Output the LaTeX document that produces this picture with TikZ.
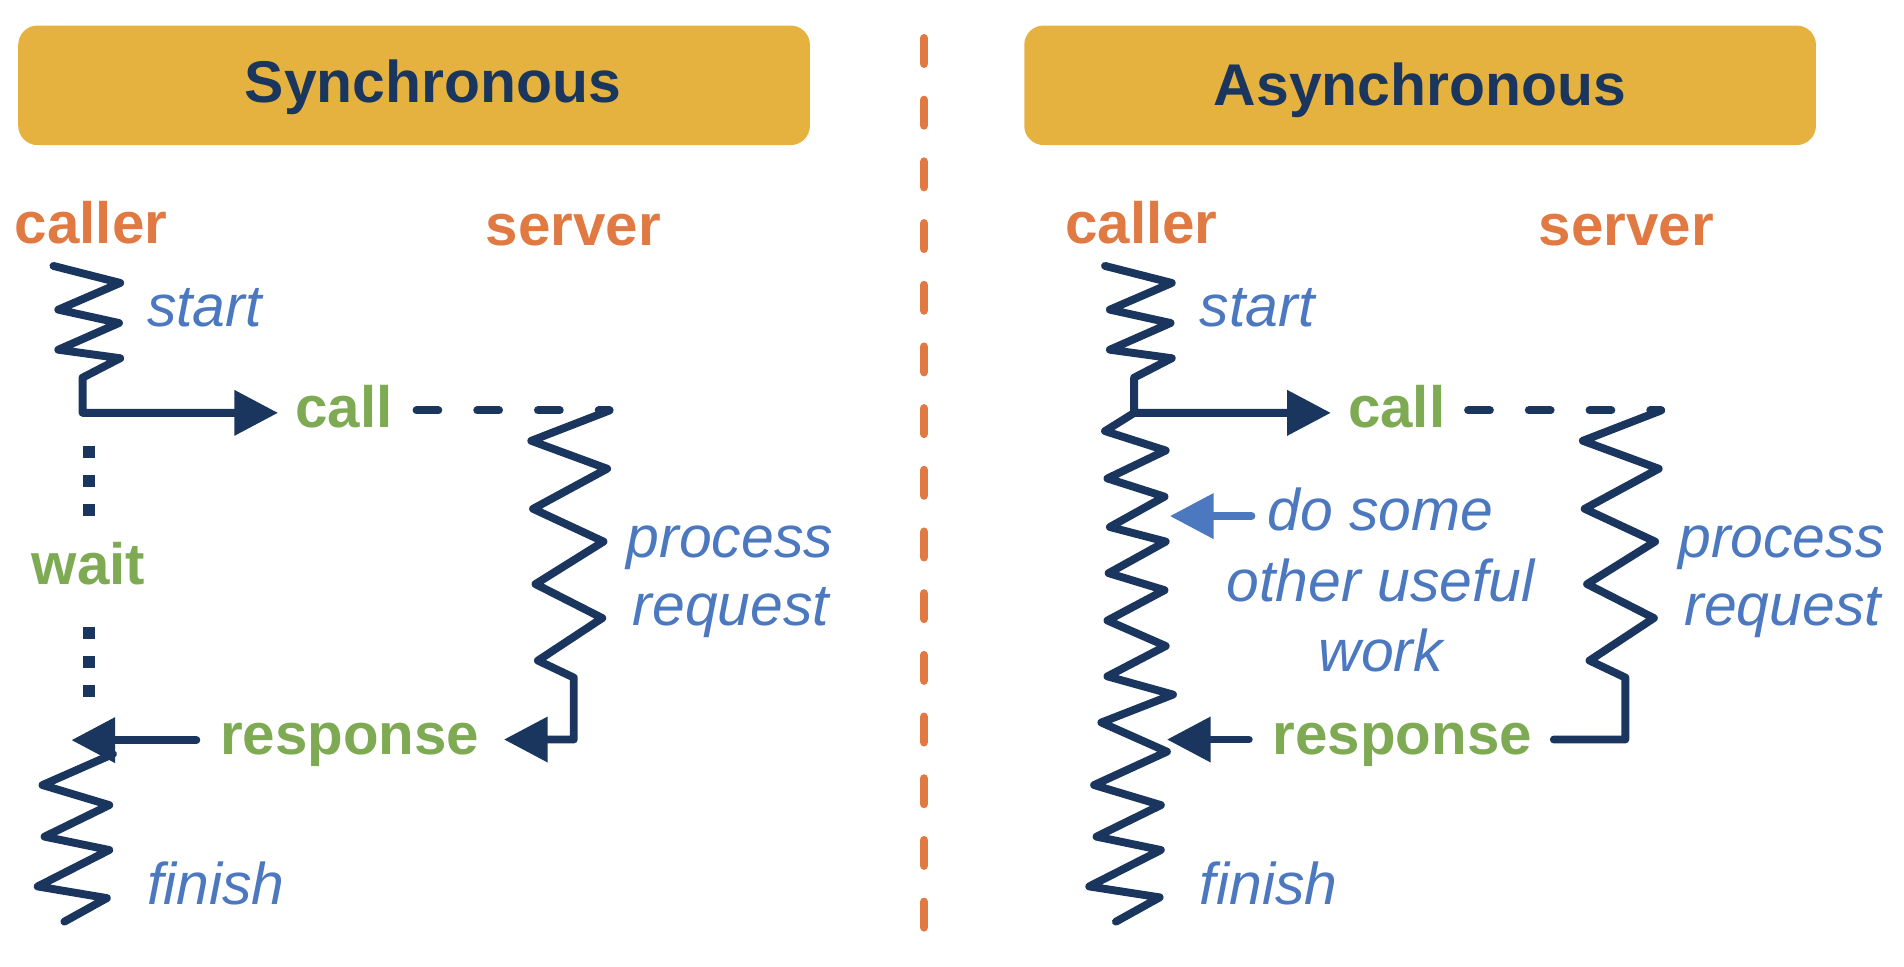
\documentclass[tikz,border=0pt]{standalone}
\usepackage{fontspec}
\setmainfont{Liberation Sans}
\usetikzlibrary{arrows.meta}
\definecolor{navy}{RGB}{26,54,94}
\definecolor{orng}{RGB}{224,121,66}
\definecolor{grn}{RGB}{126,170,84}
\definecolor{blu}{RGB}{75,120,190}
\definecolor{gold}{RGB}{229,178,64}
\begin{document}
\begin{tikzpicture}[x=1pt,y=-1pt,
  wire/.style={draw=navy, line width=6.5pt, line join=round, line cap=round},
  tipped/.style={-{Triangle[length=36pt,width=36pt]}},
  callline/.style={wire, dash pattern=on 18pt off 32pt},
  hdrbox/.style={fill=gold, rounded corners=16pt},
  hdr/.style={font=\fontsize{48.5}{56}\selectfont\bfseries, text=navy, anchor=base, inner sep=0pt},
  role/.style={font=\fontsize{48}{56}\selectfont\bfseries, text=orng, anchor=base west, inner sep=0pt},
  evt/.style={font=\fontsize{48}{56}\selectfont\bfseries, text=grn, anchor=base west, inner sep=0pt},
  note/.style={font=\fontsize{48.5}{58}\selectfont\itshape, text=blu, anchor=base west, inner sep=0pt},
  divider/.style={draw=orng, line width=7pt, line cap=round, dash pattern=on 21pt off 29.8pt},
  waitdots/.style={draw=navy, line width=10pt, dash pattern=on 10pt off 14pt},
]
\useasboundingbox (0,0) rectangle (1568,796);

% headers
\fill[hdrbox] (15,21) rectangle (667,119.5);
\fill[hdrbox] (843.5,21) rectangle (1495.5,119.5);
\node[hdr] (hsync) at (356.5,84) {Synchronous};
\node[hdr] (hasync) at (1169.5,86.5) {Asynchronous};

% divider
\coordinate (divtop) at (761,31.5);
\coordinate (divbot) at (761,764);
\draw[divider] (divtop) -- (divbot);

% ---------------- Synchronous ----------------
\node[role] (callerL) at (12,200.5) {caller};
\node[role] (serverL) at (400,202.5) {server};
\node[note] (startL) at (121,269) {start};
\node[evt] (callL) at (243,352) {call};
\node[evt] (waitL) at (26,481) {wait};
\node[evt] (respL) at (181,621.7) {response};
\node[note] (procL) at (516,459) {process};
\node[note] (reqL) at (521,515) {request};
\node[note] (finL) at (121,745) {finish};

\coordinate (cTopL) at (44,219);
\coordinate (cCallL) at (68,340);
\coordinate (callTipL) at (229,340);
\draw[wire,tipped] (cTopL) -- (99,233) -- (48,255) -- (98,266) -- (48,288) -- (99,295) -- (68,311) -- (cCallL) -- (callTipL);

\coordinate (sTopL) at (502,338);
\coordinate (callDashL) at (343,338);
\draw[callline] (callDashL) -- (sTopL);

\coordinate (sEndL) at (472.5,609);
\coordinate (respTipL) at (415,609);
\draw[wire,tipped] (sTopL) -- (437.5,363) -- (500,386) -- (439,419) -- (497,446) -- (441,481) -- (496,509) -- (443,544) -- (472.5,558) -- (sEndL) -- (respTipL);

\draw[waitdots] (73.5,367) -- (73.5,426);
\draw[waitdots] (73.5,516) -- (73.5,574);

\coordinate (respStartL) at (161.7,609.5);
\coordinate (respEndL) at (58.8,609.5);
\draw[wire,tipped] (respStartL) -- (respEndL);

\coordinate (fTopL) at (93,621);
\coordinate (fEndL) at (53,759);
\draw[wire] (fTopL) -- (35,646.5) -- (90,663) -- (36.7,689) -- (90,700) -- (31,730) -- (88,739.6) -- (fEndL);

% ---------------- Asynchronous ----------------
\node[role] (callerR) at (877,200.5) {caller};
\node[role] (serverR) at (1267,202.5) {server};
\node[note] (startR) at (988,269) {start};
\node[evt] (callR) at (1110,352) {call};
\node[evt] (respR) at (1048,621.7) {response};
\node[note] (procR) at (1382,459) {process};
\node[note] (reqR) at (1387,515) {request};
\node[note] (finR) at (988,745) {finish};
\node[note, anchor=base] (do1) at (1137,437) {do some};
\node[note, anchor=base] (do2) at (1137,495) {other useful};
\node[note, anchor=base] (do3) at (1137,553) {work};

\coordinate (cTopR) at (910,219);
\coordinate (cCallR) at (934,340);
\coordinate (callTipR) at (1096,340);
\draw[wire,tipped] (cTopR) -- (965,233) -- (914,255) -- (964,266) -- (914,288) -- (965,295) -- (934,311) -- (cCallR) -- (callTipR);

\coordinate (cEndR) at (919,759);
\draw[wire] (cCallR) -- (910,355) -- (960,371) -- (912,394) -- (959,409) -- (914,434) -- (960,446) -- (913,472) -- (959,486) -- (912,511) -- (960,532) -- (912,557) -- (966,572) -- (907,595) -- (961,619) -- (901,646.5) -- (956,663) -- (903,689) -- (956,700) -- (897,730) -- (955,739) -- (cEndR);

\coordinate (sTopR) at (1368,338);
\coordinate (callDashR) at (1209,338);
\draw[callline] (callDashR) -- (sTopR);

\coordinate (sEndR) at (1279.6,609);
\draw[wire] (sTopR) -- (1303.5,363) -- (1366,386) -- (1305,419) -- (1363,446) -- (1307,481) -- (1362,509) -- (1309,544) -- (1338.5,558) -- (1338.5,609) -- (sEndR);

\coordinate (respStartR) at (1028.4,609);
\coordinate (respEndR) at (961,609);
\draw[wire,tipped] (respStartR) -- (respEndR);

\coordinate (doStart) at (1030.6,425);
\coordinate (doEnd) at (963.4,425);
\draw[wire,draw=blu,tipped] (doStart) -- (doEnd);
\end{tikzpicture}
\end{document}
